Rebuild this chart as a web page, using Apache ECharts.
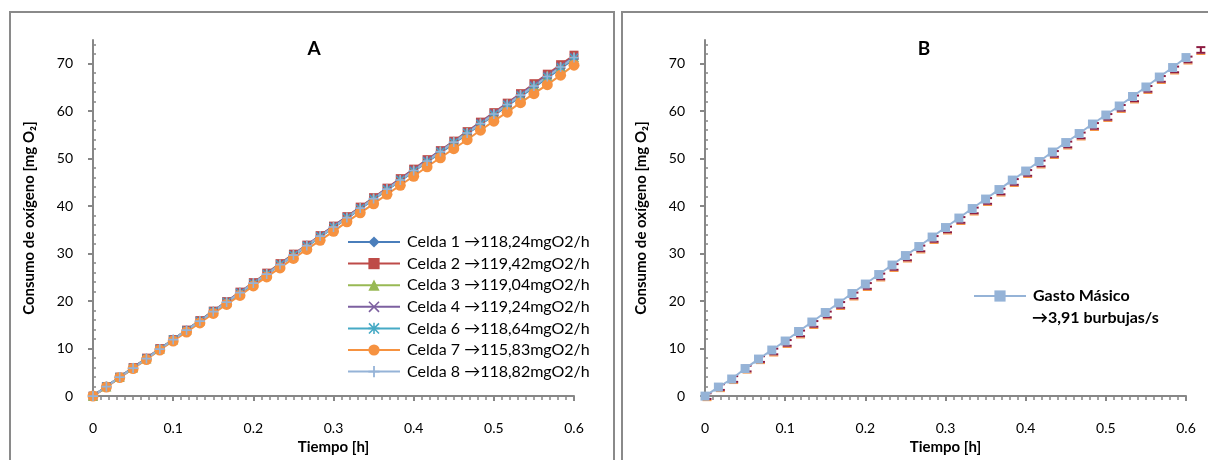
<!DOCTYPE html>
<html>
<head>
<meta charset="utf-8">
<script src="https://cdn.jsdelivr.net/npm/echarts@6/dist/echarts.min.js"></script>
<style>
html,body{margin:0;padding:0;background:#fff;}
#chart{width:1208px;height:460px;}
</style>
</head>
<body>
<div id="chart"></div>
<script>
// ---- data ----
const time = [0, 0.0167, 0.0333, 0.05, 0.0667, 0.0833, 0.1, 0.1167, 0.1333, 0.15, 0.1667, 0.1833, 0.2, 0.2167, 0.2333, 0.25, 0.2667, 0.2833, 0.3, 0.3167, 0.3333, 0.35, 0.3667, 0.3833, 0.4, 0.4167, 0.4333, 0.45, 0.4667, 0.4833, 0.5, 0.5167, 0.5333, 0.55, 0.5667, 0.5833, 0.6];

const celda1 = [0, 2.0, 3.9, 5.9, 7.9, 9.9, 11.8, 13.8, 15.8, 17.7, 19.7, 21.7, 23.7, 25.6, 27.6, 29.6, 31.5, 33.5, 35.5, 37.4, 39.4, 41.4, 43.4, 45.3, 47.3, 49.3, 51.2, 53.2, 55.2, 57.2, 59.1, 61.1, 63.1, 65.0, 67.0, 69.0, 71.0];
const celda2 = [0, 2.0, 4.0, 6.0, 8.0, 10.0, 11.9, 13.9, 15.9, 17.9, 19.9, 21.9, 23.9, 25.9, 27.9, 29.9, 31.8, 33.8, 35.8, 37.8, 39.8, 41.8, 43.8, 45.8, 47.8, 49.8, 51.7, 53.7, 55.7, 57.7, 59.7, 61.7, 63.7, 65.8, 67.8, 69.8, 71.8];
const celda3 = [0, 2.0, 4.0, 6.0, 7.9, 9.9, 11.9, 13.9, 15.9, 17.9, 19.8, 21.8, 23.8, 25.8, 27.8, 29.8, 31.7, 33.7, 35.7, 37.7, 39.7, 41.7, 43.6, 45.6, 47.6, 49.6, 51.6, 53.6, 55.6, 57.5, 59.5, 61.5, 63.5, 65.5, 67.5, 69.4, 71.4];
const celda4 = [0, 2.0, 4.0, 6.0, 7.9, 9.9, 11.9, 13.9, 15.9, 17.9, 19.9, 21.9, 23.8, 25.8, 27.8, 29.8, 31.8, 33.8, 35.8, 37.8, 39.7, 41.7, 43.7, 45.7, 47.7, 49.7, 51.7, 53.6, 55.6, 57.6, 59.6, 61.6, 63.6, 65.6, 67.6, 69.5, 71.5];
const celda6 = [0, 2.0, 4.0, 5.9, 7.9, 9.9, 11.9, 13.8, 15.8, 17.8, 19.8, 21.7, 23.7, 25.7, 27.7, 29.7, 31.6, 33.6, 35.6, 37.6, 39.5, 41.5, 43.5, 45.5, 47.4, 49.4, 51.4, 53.4, 55.4, 57.3, 59.3, 61.3, 63.3, 65.2, 67.2, 69.2, 71.2];
const celda7 = [0, 1.9, 3.9, 5.8, 7.7, 9.7, 11.6, 13.5, 15.4, 17.4, 19.3, 21.2, 23.2, 25.1, 27.0, 29.0, 30.9, 32.8, 34.7, 36.7, 38.6, 40.5, 42.5, 44.4, 46.3, 48.3, 50.2, 52.1, 54.0, 56.0, 57.9, 59.8, 61.8, 63.7, 65.6, 67.6, 69.7];
const celda8 = [0, 2.0, 4.0, 5.9, 7.9, 9.9, 11.9, 13.9, 15.8, 17.8, 19.8, 21.8, 23.8, 25.7, 27.7, 29.7, 31.7, 33.7, 35.6, 37.6, 39.6, 41.6, 43.6, 45.5, 47.5, 49.5, 51.5, 53.5, 55.4, 57.4, 59.4, 61.4, 63.4, 65.3, 67.3, 69.3, 71.3];

const seriesNamesA = ['Celda 1 \u2192118,24mgO2/h', 'Celda 2 \u2192119,42mgO2/h', 'Celda 3 \u2192119,04mgO2/h', 'Celda 4 \u2192119,24mgO2/h', 'Celda 6 \u2192118,64mgO2/h', 'Celda 7 \u2192115,83mgO2/h', 'Celda 8 \u2192118,82mgO2/h'];

const gasto = [0, 1.9, 3.6, 5.8, 7.8, 9.7, 11.6, 13.6, 15.6, 17.6, 19.6, 21.6, 23.6, 25.6, 27.6, 29.6, 31.5, 33.5, 35.5, 37.5, 39.5, 41.5, 43.5, 45.5, 47.4, 49.4, 51.4, 53.4, 55.3, 57.3, 59.2, 61.1, 63.1, 65.1, 67.2, 69.2, 71.3];

// error-bar series of panel B (mostly hidden behind the blue squares)
const errTime = [0, 0.0167, 0.0333, 0.05, 0.0667, 0.0833, 0.1, 0.1167, 0.1333, 0.15, 0.1667, 0.1833, 0.2, 0.2167, 0.2333, 0.25, 0.2667, 0.2833, 0.3, 0.3167, 0.3333, 0.35, 0.3667, 0.3833, 0.4, 0.4167, 0.4333, 0.45, 0.4667, 0.4833, 0.5, 0.5167, 0.5333, 0.55, 0.5667, 0.5833, 0.6, 0.616];
const errVals = [0, 1.9, 3.6, 5.8, 7.8, 9.4, 11.2, 13.2, 15.2, 17.2, 19.2, 21.2, 23.2, 25.2, 27.2, 29.2, 31.1, 33.1, 35.1, 37.1, 39.1, 41.1, 43.1, 45.1, 47.0, 49.0, 51.0, 53.0, 54.9, 56.9, 58.8, 60.7, 62.7, 64.7, 66.8, 68.8, 70.9, 72.9];
const errSize = 0.6;

const yLabelValues = [0, 10, 20, 30, 40, 50, 60, 70];
const yMinorValues = [2, 4, 6, 8, 12, 14, 16, 18, 22, 24, 26, 28, 32, 34, 36, 38, 42, 44, 46, 48, 52, 54, 56, 58, 62, 64, 66, 68, 72, 74];

const titleA = 'A', titleB = 'B';
const xName = 'Tiempo [h]';
const yName = 'Consumo de ox\u00edgeno [mg O\u2082]';
const legendB1 = 'Gasto M\u00e1sico';
const legendB2 = '\u21923,91 burbujas/s';

// ---- styling ----
const FONT = 'Lato';
const AX = '#878787';
const colorsA = ['#4A7EBB', '#BE4B48', '#98B954', '#7D60A0', '#46AAC5', '#F69240', '#95B3D7'];
const symbolsA = [
  'diamond', 'rect', 'triangle',
  'path://M1,0L5,4L9,0L10,1L6,5L10,9L9,10L5,6L1,10L0,9L4,5L0,1Z',
  'path://M4.3,0H5.7V4.3H10V5.7H5.7V10H4.3V5.7H0V4.3H4.3Z M1,0L5,4L9,0L10,1L6,5L10,9L9,10L5,6L1,10L0,9L4,5L0,1Z',
  'circle',
  'path://M4.2,0H5.8V4.2H10V5.8H5.8V10H4.2V5.8H0V4.2H4.2Z'
];
const sizesA = [10, 9, 10, 8, 9, 11, 10];
const dataA = [celda1, celda2, celda3, celda4, celda6, celda7, celda8];

const grids = [
  {left: 93, top: 40, width: 481, height: 357},
  {left: 705, top: 40, width: 481, height: 357}
];

function xAxesFor(g) {
  return [
    {
      type: 'value', gridIndex: g, min: 0, max: 0.6, interval: 0.1,
      name: xName, nameLocation: 'middle', nameGap: 43,
      nameTextStyle: {fontFamily: FONT, fontSize: 15, fontWeight: 'bold', color: '#000'},
      axisLine: {show: true, onZero: false, lineStyle: {color: AX, width: 2}},
      axisTick: {show: true, inside: false, length: 5, lineStyle: {color: AX, width: 2}},
      minorTick: {show: true, splitNumber: 10, length: 4, lineStyle: {color: AX, width: 1.5}},
      axisLabel: {margin: 25, fontFamily: FONT, fontSize: 14, color: '#000'},
      splitLine: {show: false}, minorSplitLine: {show: false}
    },
    {
      type: 'value', gridIndex: g, min: 0, max: 0.6, interval: 0.1,
      axisLine: {show: false},
      axisTick: {show: true, inside: true, length: 5, lineStyle: {color: AX, width: 2}},
      axisLabel: {show: false}, splitLine: {show: false}
    }
  ];
}
function yAxesFor(g) {
  return [
    {
      type: 'value', gridIndex: g, min: 0, max: 75,
      name: yName, nameLocation: 'middle', nameGap: 56, nameRotate: 90,
      nameTextStyle: {fontFamily: FONT, fontSize: 15, fontWeight: 'bold', color: '#000'},
      axisLine: {show: true, onZero: false, lineStyle: {color: AX, width: 2}},
      axisTick: {show: true, inside: false, length: 5, customValues: yLabelValues, lineStyle: {color: AX, width: 2}},
      axisLabel: {margin: 20, fontFamily: FONT, fontSize: 14, color: '#000', customValues: yLabelValues},
      splitLine: {show: false}
    },
    {
      type: 'value', gridIndex: g, min: 0, max: 75,
      axisLine: {show: false},
      axisTick: {show: true, inside: false, length: 3, customValues: yMinorValues, lineStyle: {color: AX, width: 1.5}},
      axisLabel: {show: false}, splitLine: {show: false}
    },
    {
      type: 'value', gridIndex: g, min: 0, max: 75,
      axisLine: {show: false},
      axisTick: {show: true, inside: true, length: 5, customValues: yLabelValues, lineStyle: {color: AX, width: 2}},
      axisLabel: {show: false}, splitLine: {show: false}
    }
  ];
}

const series = [];
dataA.forEach((arr, k) => {
  series.push({
    name: seriesNamesA[k], type: 'line', xAxisIndex: 0, yAxisIndex: 0,
    data: time.map((t, i) => [t, arr[i]]),
    symbol: symbolsA[k], symbolSize: sizesA[k], showAllSymbol: true,
    lineStyle: {color: colorsA[k], width: 2},
    itemStyle: {color: colorsA[k]},
    color: colorsA[k], animation: false
  });
});

series.push({
  name: 'err', type: 'custom', xAxisIndex: 2, yAxisIndex: 3, clip: false,
  data: errTime.map((t, i) => [t, errVals[i], errSize]),
  renderItem: function (params, api) {
    const x = api.value(0), y = api.value(1), e = api.value(2);
    const top = api.coord([x, y + e]);
    const bot = api.coord([x, y - e]);
    const dx = 2, hw = 4.5;
    const cx = top[0] + dx;
    const red = '#8C1A40';
    return {
      type: 'group',
      children: [
        {type: 'line', shape: {x1: cx - hw, y1: bot[1] + 1.6, x2: cx + hw, y2: bot[1] + 1.6}, style: {stroke: '#F79646', lineWidth: 1.2}},
        {type: 'line', shape: {x1: cx, y1: top[1], x2: cx, y2: bot[1]}, style: {stroke: red, lineWidth: 2}},
        {type: 'line', shape: {x1: cx - hw, y1: top[1], x2: cx + hw, y2: top[1]}, style: {stroke: red, lineWidth: 2}},
        {type: 'line', shape: {x1: cx - hw, y1: bot[1], x2: cx + hw, y2: bot[1]}, style: {stroke: red, lineWidth: 2}}
      ]
    };
  },
  animation: false
});

series.push({
  name: legendB1, type: 'line', xAxisIndex: 2, yAxisIndex: 3,
  data: time.map((t, i) => [t, gasto[i]]),
  symbol: 'rect', symbolSize: 9, showAllSymbol: true,
  lineStyle: {color: '#95B3D7', width: 2},
  itemStyle: {color: '#95B3D7'}, color: '#95B3D7', animation: false
});

const option = {
  animation: false,
  backgroundColor: '#fff',
  grid: grids,
  xAxis: xAxesFor(0).concat(xAxesFor(1)),
  yAxis: yAxesFor(0).concat(yAxesFor(1)),
  legend: [
    {
      data: seriesNamesA, orient: 'vertical', left: 347, top: 234, padding: 0,
      itemWidth: 52, itemHeight: 14, itemGap: 5.6,
      textStyle: {fontFamily: FONT, fontSize: 16, color: '#000', padding: [0, 0, 0, 2]}
    },
    {
      data: [legendB1], orient: 'vertical', left: 973, top: 288, padding: 0,
      itemWidth: 52, itemHeight: 14,
      textStyle: {fontFamily: FONT, fontSize: 16, fontWeight: 'bold', color: '#000', padding: [0, 0, 0, 2]}
    }
  ],
  graphic: [
    {type: 'rect', shape: {x: 10, y: 12, width: 604, height: 470}, style: {fill: 'none', stroke: '#8a8a8a', lineWidth: 2}, z: -1},
    {type: 'rect', shape: {x: 622, y: 12, width: 600, height: 470}, style: {fill: 'none', stroke: '#8a8a8a', lineWidth: 2}, z: -1},
    {type: 'text', x: 314, y: 49, style: {text: titleA, fontFamily: FONT, fontSize: 19, fontWeight: 'bold', fill: '#000', textAlign: 'center', textVerticalAlign: 'middle'}},
    {type: 'text', x: 924, y: 49, style: {text: titleB, fontFamily: FONT, fontSize: 19, fontWeight: 'bold', fill: '#000', textAlign: 'center', textVerticalAlign: 'middle'}},
    {type: 'text', x: 1032, y: 318, style: {text: legendB2, fontFamily: FONT, fontSize: 16, fontWeight: 'bold', fill: '#000', textAlign: 'left', textVerticalAlign: 'middle'}}
  ],
  series: series
};

const chart = echarts.init(document.getElementById('chart'), null, {renderer: 'canvas'});
chart.setOption(option);
</script>
</body>
</html>
